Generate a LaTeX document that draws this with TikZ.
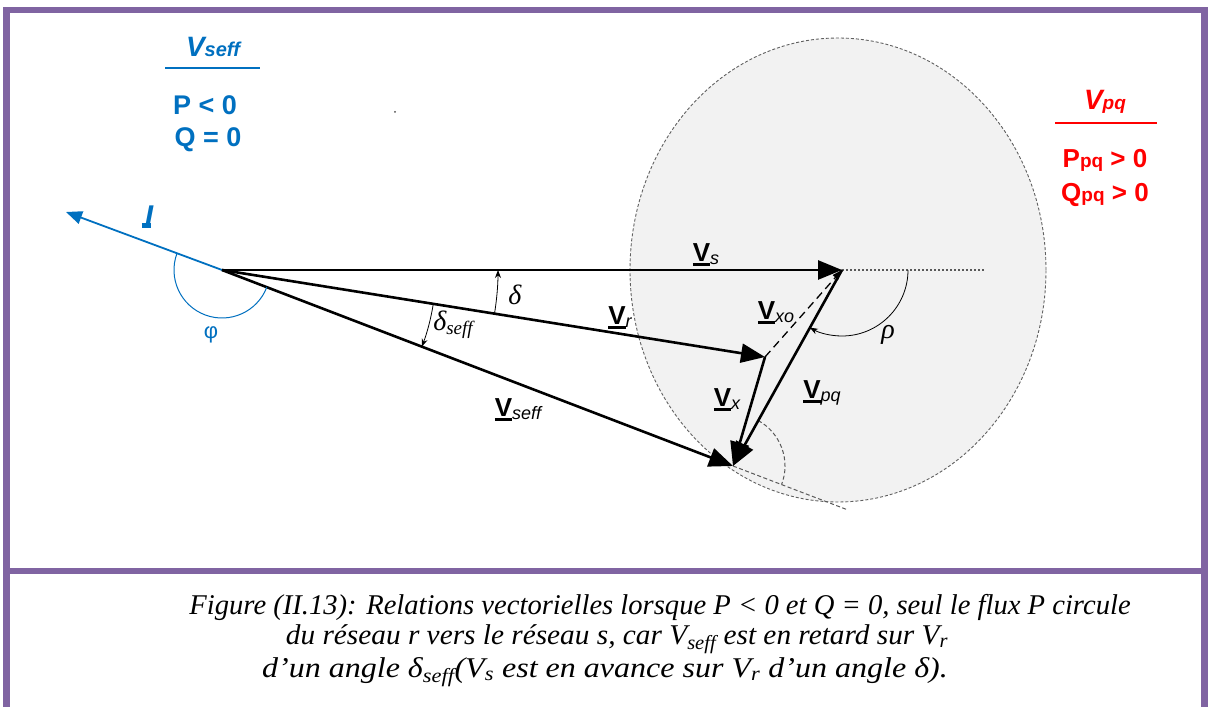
\documentclass[tikz,border=0pt]{standalone}
\usepackage{fontspec}
\setmainfont{Liberation Serif}
\setsansfont{Liberation Sans}
\usetikzlibrary{arrows.meta,calc}
\definecolor{framec}{HTML}{8064A2}
\definecolor{vblue}{HTML}{0070C0}
\definecolor{vred}{HTML}{FF0000}
\definecolor{ellfill}{HTML}{F2F2F2}
\newcommand\vecV[1]{{\sffamily\setbox0\hbox{\fontsize{26}{26}\selectfont\bfseries V}\rlap{\rule[-4.5pt]{\wd0}{3.5pt}}\box0\raisebox{-3pt}{\fontsize{18}{18}\selectfont\itshape #1}}}
\newcommand\vecI{{\sffamily\setbox0\hbox{\fontsize{30}{30}\selectfont\bfseries\itshape I}\rlap{\kern-3pt\rule[-1pt]{\dimexpr\wd0+1pt\relax}{4.5pt}}\box0}}
\begin{document}
\begin{tikzpicture}[x=1pt,y=1pt,
  vec/.style={line width=2.6pt,-{Triangle[length=24pt,width=19pt]}},
  thinarc/.style={line width=0.8pt,-{Stealth[length=8pt,width=6pt]}},
  lab/.style={inner sep=0pt,anchor=center},
  caption/.style={font=\fontsize{28.6}{32}\selectfont\itshape,inner sep=0pt,anchor=center},
  head/.style={font=\sffamily\bfseries,inner sep=0pt,anchor=center}]
\useasboundingbox (0,0) rectangle (1208,707);
\fill[white] (0,0) rectangle (1208,707);
% shaded region
\draw[fill=ellfill,draw=gray!75!black,line width=0.9pt,dash pattern=on 3pt off 2pt] (838,437) ellipse [x radius=208, y radius=232];
% frame
\draw[framec,line width=6.5pt,line join=miter] (6.5,0) -- (6.5,697) -- (1204.5,697) -- (1204.5,0);
\draw[framec,line width=6pt] (6.5,136) -- (1204.5,136);
% points
\coordinate (O) at (222,437);
\coordinate (S) at (842,437);
\coordinate (R) at (765,350);
\coordinate (E) at (733,241);
\coordinate (Itip) at (66,495);
\coordinate (Sdot) at (985,437);
\coordinate (Eext) at (848,197);
\fill[gray!60!black] (395,595) circle (1pt);
% auxiliary lines
\draw[gray!70!black,line width=1.2pt,dash pattern=on 2pt off 2pt] (S) -- (Sdot);
\draw[gray!70!black,line width=1pt,dash pattern=on 4pt off 2.5pt] (E) -- (Eext);
\draw[gray!70!black,line width=1pt,dash pattern=on 4pt off 2.5pt] (E) ++(60.9:52) arc[start angle=60.9,end angle=-20.9,radius=52];
% vectors
\draw[vblue,line width=1.8pt,-{Triangle[length=16pt,width=13pt]}] (O) -- (Itip);
\draw[vec] (O) -- (S);
\draw[vec] (O) -- (R);
\draw[vec] (O) -- (E);
\draw[vec] (R) -- (E);
\draw[vec] (S) -- (E);
\draw[line width=1.3pt,dash pattern=on 8pt off 5pt,-{Triangle[length=10pt,width=7pt]}] (R) -- (S);
% angle arcs
\draw[thinarc] (O) ++(-9.1:276) arc[start angle=-9.1,end angle=0,radius=276];
\draw[thinarc] (O) ++(-9.1:214) arc[start angle=-9.1,end angle=-21,radius=214];
\draw[vblue,line width=1pt] (O) ++(159.7:48) arc[start angle=159.7,end angle=339,radius=48];
\draw[thinarc] (S) ++(0:66) arc[start angle=0,end angle=-119.1,radius=66];
% labels
\node[lab,text=vblue] (lI) at (149,490) {\vecI};
\node[lab,text=vblue,font=\sffamily\fontsize{22}{22}\selectfont] (lphi) at (211,372) {φ};
\node[lab] (lVs) at (706,452) {\vecV{s}};
\node[lab,font=\fontsize{28}{28}\selectfont\itshape] (ldelta) at (515,412) {δ};
\node[lab] (lVr) at (620,389) {\vecV{r}};
\node[lab,font=\fontsize{28}{28}\selectfont\itshape] (ldseff) at (453,382) {δ\raisebox{-4pt}{\fontsize{19}{19}\selectfont seff}};
\node[lab] (lVseff) at (518,297) {\vecV{seff}};
\node[lab] (lVxo) at (776,394) {\vecV{xo}};
\node[lab,font=\fontsize{28}{28}\selectfont\itshape] (lrho) at (888,372) {ρ};
\node[lab] (lVx) at (727,307) {\vecV{x}};
\node[lab] (lVpq) at (822,314) {\vecV{pq}};
% headings
\node[head,text=vblue] (hl1) at (213,660) {\itshape\fontsize{28}{28}\selectfont V\fontsize{20}{20}\selectfont seff};
\draw[vblue,line width=1.5pt] (165,639) -- (260,639);
\node[head,text=vblue,font=\sffamily\bfseries\fontsize{27}{27}\selectfont] (hl2) at (205,602) {P < 0};
\node[head,text=vblue,font=\sffamily\bfseries\fontsize{27}{27}\selectfont] (hl3) at (208,567) {Q = 0};
\node[head,text=vred] (hr1) at (1105,605) {\itshape\fontsize{28}{28}\selectfont V\fontsize{19}{19}\selectfont pq};
\draw[vred,line width=1.5pt] (1055,584) -- (1157,584);
\node[head,text=vred,font=\sffamily\bfseries\fontsize{26}{26}\selectfont] (hr2) at (1105,547) {P{\fontsize{19}{19}\selectfont pq} > 0};
\node[head,text=vred,font=\sffamily\bfseries\fontsize{26}{26}\selectfont] (hr3) at (1105,512) {Q{\fontsize{19}{19}\selectfont pq} > 0};
% caption
\node[caption] (c1) at (660,100) {Figure (II.13): Relations vectorielles lorsque P < 0 et Q = 0, seul le flux P circule};
\node[caption] (c2) at (617,68) {\scalebox{1.025}[1]{du réseau r vers le réseau s, car V\textsubscript{seff} est en retard sur V\textsubscript{r}}};
\node[caption] (c3) at (605,35) {\scalebox{1.12}[1]{d’un angle δ\textsubscript{seff}(V\textsubscript{s} est en avance sur V\textsubscript{r} d’un angle δ).}};
\end{tikzpicture}
\end{document}
